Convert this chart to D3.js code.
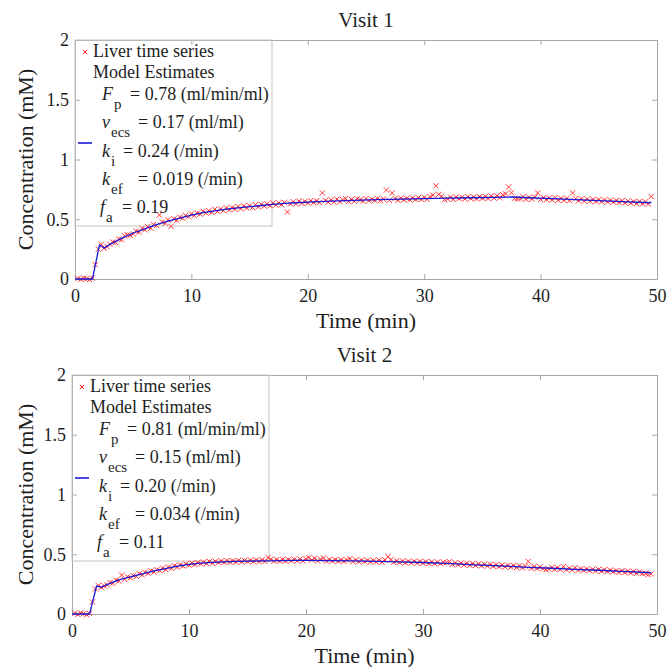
<!DOCTYPE html>
<html>
<head>
<meta charset="utf-8">
<script src="https://cdn.jsdelivr.net/npm/d3@7"></script>
<style>
  body { margin: 0; background: #fff; }
  svg { display: block; font-family: "Liberation Serif", "Times New Roman", serif; }
</style>
</head>
<body>
<svg id="chart" width="670" height="667"></svg>
<script>
// axis ticks
const xTicks = [0, 10, 20, 30, 40, 50]
const yTicks = [0, 0.5, 1, 1.5, 2]

// scan times (min) shared by both visits
const scanTimes = [
  0.25,0.5,0.75,1,1.25,1.5,1.75,2,
  2.25,2.5,2.75,3,3.25,3.5,3.75,4,
  4.25,4.5,4.75,5,5.25,5.5,5.75,6,
  6.25,6.5,6.75,7,7.25,7.5,7.75,8,
  8.25,8.5,8.75,9,9.25,9.5,9.75,10,
  10.25,10.5,10.75,11,11.25,11.5,11.75,12,
  12.25,12.5,12.75,13,13.25,13.5,13.75,14,
  14.25,14.5,14.75,15,15.25,15.5,15.75,16,
  16.25,16.5,16.75,17,17.25,17.5,17.75,18,
  18.25,18.5,18.75,19,19.25,19.5,19.75,20,
  20.25,20.5,20.75,21,21.25,21.5,21.75,22,
  22.25,22.5,22.75,23,23.25,23.5,23.75,24,
  24.25,24.5,24.75,25,25.25,25.5,25.75,26,
  26.25,26.5,26.75,27,27.25,27.5,27.75,28,
  28.25,28.5,28.75,29,29.25,29.5,29.75,30,
  30.25,30.5,30.75,31,31.25,31.5,31.75,32,
  32.25,32.5,32.75,33,33.25,33.5,33.75,34,
  34.25,34.5,34.75,35,35.25,35.5,35.75,36,
  36.25,36.5,36.75,37,37.25,37.5,37.75,38,
  38.25,38.5,38.75,39,39.25,39.5,39.75,40,
  40.25,40.5,40.75,41,41.25,41.5,41.75,42,
  42.25,42.5,42.75,43,43.25,43.5,43.75,44,
  44.25,44.5,44.75,45,45.25,45.5,45.75,46,
  46.25,46.5,46.75,47,47.25,47.5,47.75,48,
  48.25,48.5,48.75,49,49.25,49.5
]

// liver concentration (mM), visit 1
const visit1Conc = [
  0.004,-0.003,0.006,0.002,-0.004,0.008,0.12,0.25,
  0.29,0.26,0.27,0.29,0.31,0.305,0.335,0.328,
  0.362,0.37,0.366,0.378,0.40,0.392,0.423,0.412,
  0.438,0.425,0.455,0.448,0.535,0.476,0.468,0.494,
  0.44,0.503,0.49,0.518,0.509,0.532,0.521,0.544,
  0.531,0.552,0.543,0.566,0.551,0.571,0.558,0.583,
  0.565,0.586,0.572,0.595,0.579,0.598,0.585,0.606,
  0.588,0.611,0.594,0.613,0.598,0.622,0.603,0.624,
  0.61,0.628,0.614,0.636,0.618,0.637,0.622,0.641,
  0.56,0.629,0.646,0.63,0.652,0.633,0.649,0.637,
  0.656,0.639,0.655,0.641,0.72,0.657,0.643,0.662,
  0.645,0.668,0.646,0.664,0.672,0.648,0.666,0.651,
  0.671,0.662,0.652,0.673,0.655,0.667,0.657,0.675,
  0.656,0.669,0.745,0.658,0.72,0.673,0.659,0.677,
  0.662,0.674,0.663,0.679,0.664,0.68,0.666,0.684,
  0.667,0.69,0.702,0.78,0.708,0.693,0.664,0.67,
  0.684,0.666,0.687,0.672,0.684,0.67,0.689,0.673,
  0.686,0.671,0.69,0.676,0.689,0.674,0.694,0.678,
  0.697,0.68,0.705,0.712,0.77,0.722,0.674,0.67,
  0.672,0.688,0.666,0.684,0.668,0.685,0.72,0.665,
  0.682,0.664,0.679,0.661,0.68,0.659,0.675,0.658,
  0.674,0.656,0.72,0.673,0.654,0.67,0.652,0.668,
  0.65,0.666,0.648,0.664,0.646,0.662,0.645,0.66,
  0.643,0.656,0.641,0.655,0.636,0.654,0.634,0.648,
  0.632,0.649,0.63,0.646,0.628,0.69
]

// liver concentration (mM), visit 2
const visit2Conc = [
  0.006,-0.004,0.009,0.003,-0.006,0.005,0.10,0.21,
  0.238,0.222,0.235,0.243,0.262,0.258,0.283,0.276,
  0.326,0.29,0.311,0.303,0.322,0.315,0.338,0.327,
  0.349,0.341,0.362,0.352,0.371,0.363,0.384,0.372,
  0.392,0.383,0.404,0.392,0.411,0.401,0.419,0.408,
  0.425,0.414,0.43,0.42,0.435,0.422,0.44,0.425,
  0.441,0.43,0.444,0.431,0.447,0.433,0.446,0.434,
  0.449,0.436,0.448,0.437,0.451,0.438,0.452,0.439,
  0.453,0.44,0.472,0.458,0.441,0.455,0.442,0.456,
  0.443,0.457,0.444,0.458,0.445,0.459,0.444,0.462,
  0.471,0.452,0.466,0.444,0.458,0.468,0.443,0.456,
  0.442,0.455,0.441,0.454,0.44,0.453,0.462,0.439,
  0.452,0.438,0.451,0.437,0.45,0.436,0.449,0.435,
  0.449,0.434,0.452,0.48,0.456,0.432,0.445,0.43,
  0.444,0.428,0.442,0.427,0.441,0.426,0.44,0.424,
  0.438,0.423,0.437,0.421,0.435,0.42,0.433,0.43,
  0.438,0.415,0.429,0.412,0.426,0.41,0.424,0.408,
  0.421,0.406,0.419,0.403,0.417,0.401,0.415,0.399,
  0.412,0.396,0.41,0.394,0.407,0.392,0.405,0.389,
  0.402,0.386,0.4,0.44,0.383,0.397,0.381,0.394,
  0.379,0.371,0.377,0.39,0.374,0.387,0.372,0.396,
  0.37,0.383,0.368,0.388,0.365,0.379,0.364,0.377,
  0.362,0.375,0.36,0.373,0.358,0.37,0.355,0.368,
  0.353,0.364,0.349,0.362,0.347,0.359,0.343,0.356,
  0.341,0.353,0.338,0.34,0.33,0.336
]

// model fit
const modelTimes = [0,1.5,2.1,2.5,3,4,5,6,7,8,9,10,11,12,13,14,15,16,17,18,19,20,
  22,24,26,28,30,32,34,36,37.5,39,41,43,45,47,49.5]
const visit1Model = [0,0,0.285,0.26,0.29,0.34,0.385,0.42,0.455,0.485,0.51,0.535,0.555,0.57,
  0.585,0.595,0.605,0.615,0.625,0.632,0.638,0.644,
  0.652,0.658,0.664,0.668,0.672,0.676,0.68,0.683,0.686,0.68,0.672,0.664,0.656,0.648,0.638]
const visit2Model = [0,0,0.234,0.225,0.245,0.285,0.31,0.335,0.36,0.38,0.4,0.415,0.425,0.432,
  0.437,0.44,0.442,0.444,0.445,0.447,0.448,0.448,
  0.447,0.445,0.441,0.437,0.431,0.423,0.414,0.405,0.398,0.391,0.383,0.374,0.366,0.357,0.345]

const visitTitles = ['Visit 1', 'Visit 2']
const paramSymbols = ['F', 'v', 'k', 'k', 'f']
const paramSubs = ['p', 'ecs', 'i', 'ef', 'a']
const visit1Params = ['0.78 (ml/min/ml)', '0.17 (ml/ml)', '0.24 (/min)', '0.019 (/min)', '0.19']
const visit2Params = ['0.81 (ml/min/ml)', '0.15 (ml/ml)', '0.20 (/min)', '0.034 (/min)', '0.11']

let svg = d3.select('#chart')
let textColor = '#1e1e1e'
let axisColor = '#a8a8a8'
let markRed = '#ff2222'
let fitBlue = '#1a1ad8'

// where the "= value" text starts, measured from the axis left edge
let eqOffsets = [55, 63, 48, 63, 47]

let drawPanel = (box, title, conc, model, params) => {
    let x = d3.scaleLinear().domain([0, 50]).range([box.left, box.right])
    let y = d3.scaleLinear().domain([0, 2]).range([box.bottom, box.top])
    let g = svg.append('g')

    // axes, matlab style: ticks inward, box on
    let bottomAxis = d3.axisBottom(x).tickValues(xTicks).tickFormat(d3.format('d'))
        .tickSizeInner(-5).tickSizeOuter(0).tickPadding(10)
    let leftAxis = d3.axisLeft(y).tickValues(yTicks).tickFormat((d) => {return String(d)})
        .tickSizeInner(-5).tickSizeOuter(0).tickPadding(6)
    let topAxis = d3.axisTop(x).tickValues(xTicks).tickFormat('')
        .tickSizeInner(-5).tickSizeOuter(0)
    let rightAxis = d3.axisRight(y).tickValues(yTicks).tickFormat('')
        .tickSizeInner(-5).tickSizeOuter(0)

    let axes = [
        g.append('g').attr('transform', 'translate(0,' + box.bottom + ')').call(bottomAxis),
        g.append('g').attr('transform', 'translate(' + box.left + ',0)').call(leftAxis),
        g.append('g').attr('transform', 'translate(0,' + box.top + ')').call(topAxis),
        g.append('g').attr('transform', 'translate(' + box.right + ',0)').call(rightAxis)
    ]
    axes.forEach((a) => {
        a.selectAll('path').attr('stroke', axisColor).attr('stroke-width', 1)
        a.selectAll('line').attr('stroke', axisColor).attr('stroke-width', 1)
        a.selectAll('text').attr('fill', textColor).style('font-size', '18px')
            .style('font-family', '"Liberation Serif", serif')
    })

    // title and axis labels
    let midX = (box.left + box.right) / 2
    g.append('text').text(title)
        .attr('x', midX).attr('y', box.top - 13)
        .attr('text-anchor', 'middle').attr('fill', textColor)
        .style('font-size', '21px')
    g.append('text').text('Time (min)')
        .attr('x', midX).attr('y', box.bottom + 49)
        .attr('text-anchor', 'middle').attr('fill', textColor)
        .style('font-size', '22px')
    g.append('text').text('Concentration (mM)')
        .attr('transform', 'translate(33,' + (box.top + box.bottom) / 2 + ') rotate(-90)')
        .attr('text-anchor', 'middle').attr('fill', textColor)
        .style('font-size', '22px')

    // legend (box sits under the data like in the figure)
    let lg = g.append('g').attr('transform', 'translate(' + box.left + ',' + box.top + ')')
    lg.append('rect')
        .attr('x', 0).attr('y', 0).attr('width', 197).attr('height', 186)
        .attr('fill', 'none').attr('stroke', '#c4c4c4').attr('stroke-width', 1)
    lg.append('path')
        .attr('d', d3.symbol(d3.symbolX, 14)())
        .attr('transform', 'translate(10,12)')
        .attr('fill', 'none').attr('stroke', markRed).attr('stroke-width', 1)
    lg.append('line')
        .attr('x1', 3).attr('x2', 17).attr('y1', 103).attr('y2', 103)
        .attr('stroke', fitBlue).attr('stroke-width', 1.6)
    lg.append('text').text('Liver time series')
        .attr('x', 18).attr('y', 17).attr('fill', textColor).style('font-size', '18px')
    lg.append('text').text('Model Estimates')
        .attr('x', 18).attr('y', 38).attr('fill', textColor).style('font-size', '18px')

    params.forEach((p, i) => {
        let base = 60 + i * 28.3
        let t = lg.append('text').attr('y', base).attr('fill', textColor).style('font-size', '18px')
        t.append('tspan').text(paramSymbols[i])
            .attr('x', i === 4 ? 25 : 27).style('font-style', 'italic')
        t.append('tspan').text(paramSubs[i])
            .attr('dx', 1).attr('dy', 9).style('font-size', '15px')
        t.append('tspan').text('= ' + p)
            .attr('x', eqOffsets[i]).attr('y', base)
    })

    // measured points
    let pts = scanTimes.map((t, i) => {return [t, conc[i]]})
    g.append('g').selectAll('path')
        .data(pts)
        .enter()
        .append('path')
        .attr('d', d3.symbol(d3.symbolX, 20)())
        .attr('transform', (d) => {return 'translate(' + x(d[0]) + ',' + y(d[1]) + ')'})
        .attr('fill', 'none')
        .attr('stroke', markRed)
        .attr('stroke-opacity', 0.9)
        .attr('stroke-width', 1)

    // model curve
    let line = d3.line()
        .x((d, i) => {return x(modelTimes[i])})
        .y((d) => {return y(d)})
    g.append('path')
        .datum(model)
        .attr('d', line)
        .attr('fill', 'none')
        .attr('stroke', fitBlue)
        .attr('stroke-width', 1.3)
}

drawPanel({left: 75, top: 40, right: 657, bottom: 279}, visitTitles[0], visit1Conc, visit1Model, visit1Params)
drawPanel({left: 72, top: 375, right: 657, bottom: 614}, visitTitles[1], visit2Conc, visit2Model, visit2Params)
</script>
</body>
</html>
